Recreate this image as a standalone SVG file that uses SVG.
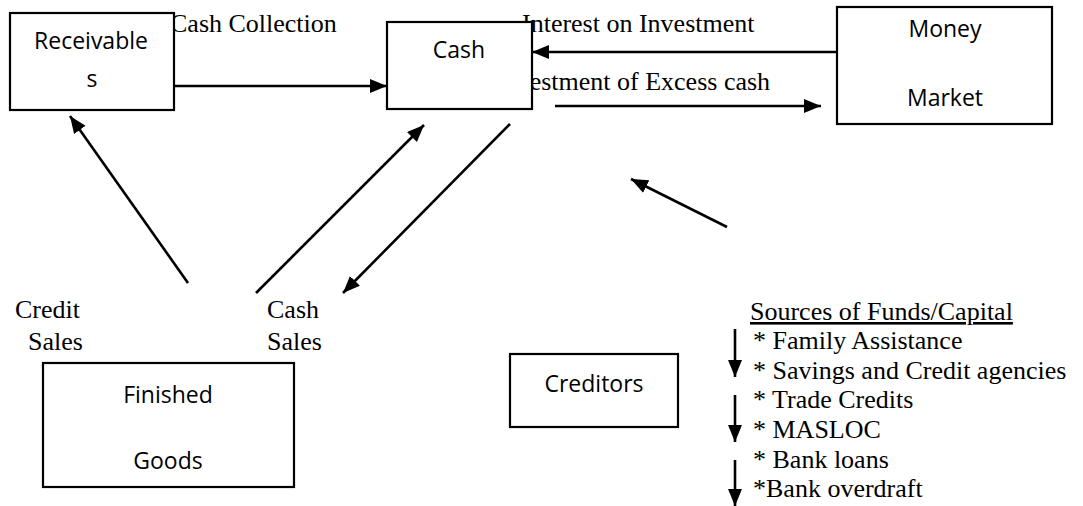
<svg xmlns="http://www.w3.org/2000/svg" width="1083" height="506" viewBox="0 0 1083 506">
<style>
.box{fill:#fff;stroke:#000;stroke-width:2.2}
.nt{font-family:"Open Sans","Liberation Sans",sans-serif;font-size:23px;fill:#000;text-anchor:middle}
.lb{font-family:"Liberation Serif","Times New Roman",serif;font-size:26px;fill:#000}
.ln{stroke:#000;stroke-width:2.6;fill:none;marker-end:url(#ah)}
</style>
<defs>
<marker id="ah" markerUnits="userSpaceOnUse" markerWidth="20" markerHeight="16" refX="17" refY="7" orient="auto">
<path d="M0,0 L17,7 L0,14 Z" fill="#000"/>
</marker>
</defs>
<g id="labels">
<text class="lb" x="170" y="32">Cash Collection</text>
<text class="lb" x="522" y="32">Interest on Investment</text>
<text class="lb" x="495" y="90">Investment of Excess cash</text>
<text class="lb" x="15" y="318">Credit</text>
<text class="lb" x="28" y="350">Sales</text>
<text class="lb" x="267" y="318">Cash</text>
<text class="lb" x="267" y="350">Sales</text>
</g>
<g id="connectors">
<line class="ln" x1="174" y1="86" x2="387" y2="86"/>
<line class="ln" x1="837" y1="52" x2="532" y2="52"/>
<line class="ln" x1="555" y1="106" x2="821" y2="106"/>
<line class="ln" x1="188" y1="283" x2="70" y2="116"/>
<line class="ln" x1="256" y1="293" x2="424" y2="125"/>
<line class="ln" x1="510" y1="124" x2="343" y2="293"/>
<line class="ln" x1="727" y1="227" x2="631" y2="179"/>
<line class="ln" x1="735" y1="329" x2="735" y2="377"/>
<line class="ln" x1="735" y1="395" x2="735" y2="442"/>
<line class="ln" x1="735" y1="460" x2="735" y2="506"/>
</g>
<g id="receivables">
<rect class="box" x="10" y="13" width="164" height="97"/>
<text class="nt" x="91" y="49">Receivable</text>
<text class="nt" x="92" y="87">s</text>
</g>
<g id="cash">
<rect class="box" x="387" y="22" width="145" height="87"/>
<text class="nt" x="459" y="58">Cash</text>
</g>
<g id="money-market">
<rect class="box" x="837" y="7" width="215" height="117"/>
<text class="nt" x="945" y="37">Money</text>
<text class="nt" x="945" y="106">Market</text>
</g>
<g id="finished-goods">
<rect class="box" x="43" y="363" width="251" height="124"/>
<text class="nt" x="168" y="403">Finished</text>
<text class="nt" x="168" y="469">Goods</text>
</g>
<g id="creditors">
<rect class="box" x="510" y="354" width="168" height="73"/>
<text class="nt" x="594" y="392">Creditors</text>
</g>
<g id="sources">
<text class="lb" x="750" y="320" text-decoration="underline">Sources of Funds/Capital</text>
<text class="lb" x="753" y="349">* Family Assistance</text>
<text class="lb" x="753" y="379">* Savings and Credit agencies</text>
<text class="lb" x="753" y="408">* Trade Credits</text>
<text class="lb" x="753" y="438">* MASLOC</text>
<text class="lb" x="753" y="468">* Bank loans</text>
<text class="lb" x="753" y="497">*Bank overdraft</text>
</g>
</svg>
